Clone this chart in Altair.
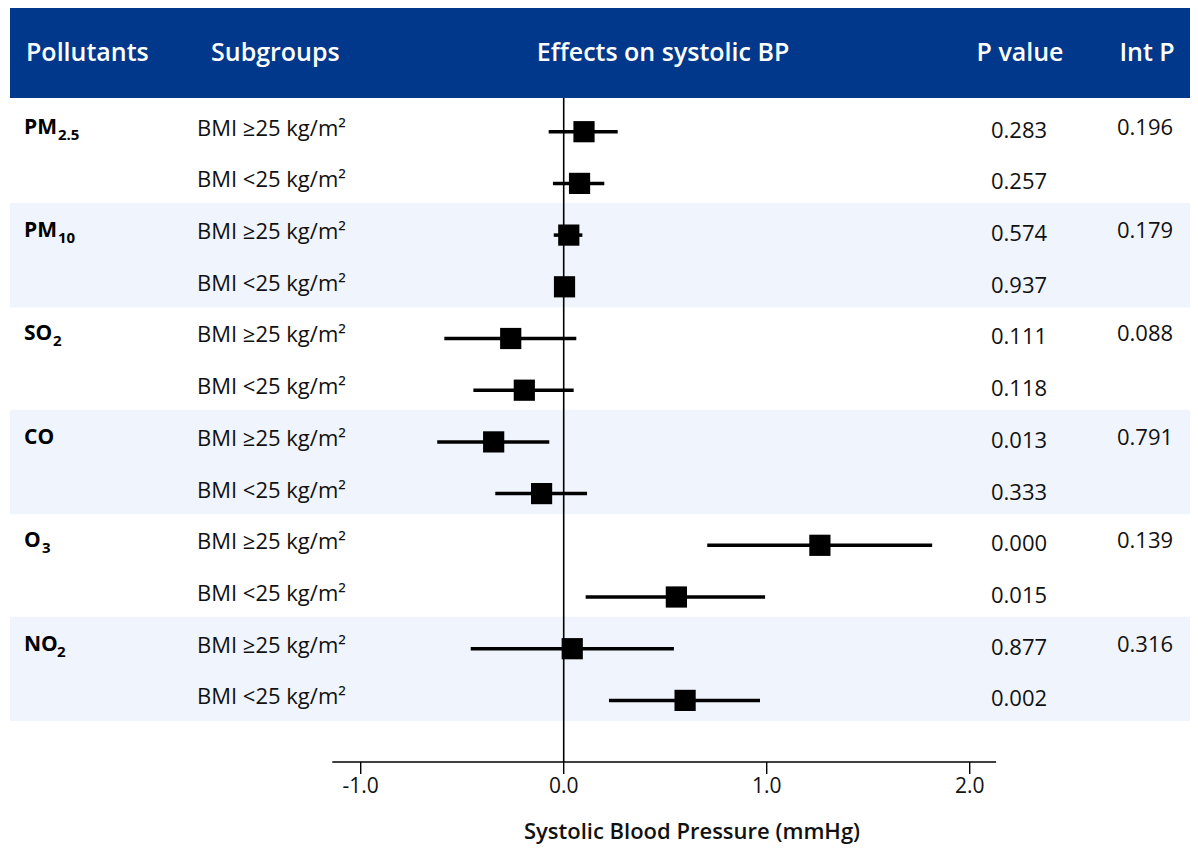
import altair as alt
import pandas as pd

# ---------------- data ----------------
pollutant_main = ["PM", "PM", "SO", "CO", "O", "NO"]
pollutant_sub = ["2.5", "10", "2", "", "3", "2"]
subgroups = ["BMI \u226525 kg/m\u00b2", "BMI <25 kg/m\u00b2"]
estimates = [0.100, 0.078, 0.025, 0.004, -0.261, -0.194, -0.345, -0.109, 1.262, 0.555, 0.042, 0.598]
lower = [-0.074, -0.053, -0.049, -0.030, -0.588, -0.445, -0.623, -0.337, 0.707, 0.108, -0.458, 0.223]
upper = [0.266, 0.200, 0.092, 0.040, 0.062, 0.049, -0.071, 0.115, 1.815, 0.992, 0.543, 0.967]
p_values = ["0.283", "0.257", "0.574", "0.937", "0.111", "0.118",
            "0.013", "0.333", "0.000", "0.015", "0.877", "0.002"]
int_p = ["0.196", "0.179", "0.088", "0.791", "0.139", "0.316"]
header_labels = ["Pollutants", "Subgroups", "Effects on systolic BP", "P value", "Int P"]
tick_values = [-1.0, 0.0, 1.0, 2.0]
tick_labels = ["-1.0", "0.0", "1.0", "2.0"]
axis_extent = [-1.14, 2.13]
x_title = "Systolic Blood Pressure (mmHg)"

# ---------------- tables ----------------
rows = pd.DataFrame({
    "row": list(range(12)),
    "sub": subgroups * 6,
    "est": estimates,
    "lo": lower,
    "hi": upper,
    "p": p_values,
})
groups = pd.DataFrame({
    "g": list(range(6)),
    "main": pollutant_main,
    "subs": pollutant_sub,
    "intp": int_p,
})
groups["row"] = groups["g"] * 2
groups["top"] = groups["row"] - 0.62
groups["bot"] = groups["row"] + 1.40
ticks = pd.DataFrame({"v": tick_values, "lab": tick_labels})
axis_df = pd.DataFrame({"a": [axis_extent[0]], "b": [axis_extent[1]]})
zero_df = pd.DataFrame({"v": [0.0]})
one = pd.DataFrame({"k": [0]})

# ---------------- styling / layout ----------------
FONT = "Open Sans"
BLUE = "#02388b"
BAND = "#f0f5fd"
W, H = 1180, 848
xscale = alt.Scale(domain=[-2.7276, 3.0852], nice=False, zero=False)
yscale = alt.Scale(domain=[-2.3926, 14.0097], nice=False, zero=False, reverse=True)
X = lambda f: alt.X(f, type="quantitative", scale=xscale, axis=None)
Y = lambda f: alt.Y(f, type="quantitative", scale=yscale, axis=None)

# (x, align) for each header label
header_pos = [(16, "left"), (201, "left"), (653, "center"), (1010, "center"), (1137, "center")]
sub_x = {0: 48, 1: 48, 2: 43, 4: 32, 5: 47}

layers = []

# alternating bands
layers.append(
    alt.Chart(groups[groups["g"] % 2 == 1]).mark_rect(color=BAND).encode(
        x=alt.value(0), x2=alt.value(W), y=Y("top"), y2="bot"
    )
)
# header bar
layers.append(
    alt.Chart(one).mark_rect(color=BLUE).encode(
        x=alt.value(0), x2=alt.value(W), y=alt.value(0), y2=alt.value(90)
    )
)
for lab, (hx, al) in zip(header_labels, header_pos):
    layers.append(
        alt.Chart(one).mark_text(
            text=lab, font=FONT, fontSize=25, fontWeight=600, color="white",
            align=al, baseline="middle"
        ).encode(x=alt.value(hx), y=alt.value(45))
    )

# zero line
layers.append(
    alt.Chart(zero_df).mark_rule(color="black", strokeWidth=1.6).encode(
        x=X("v"), y=alt.value(90), y2=alt.value(754)
    )
)
# CI lines
layers.append(
    alt.Chart(rows).mark_rule(color="black", strokeWidth=3.5).encode(
        x=X("lo"), x2="hi", y=Y("row")
    )
)
# squares
layers.append(
    alt.Chart(rows).mark_square(color="black", size=450, opacity=1, filled=True).encode(
        x=X("est"), y=Y("row")
    )
)
# subgroup labels
layers.append(
    alt.Chart(rows).mark_text(
        font=FONT, fontSize=22, align="left", baseline="middle", dy=-3, color="#111111"
    ).encode(x=alt.value(187), y=Y("row"), text="sub")
)
# p values
layers.append(
    alt.Chart(rows).mark_text(
        font=FONT, fontSize=22, align="center", baseline="middle", dy=-1, color="#111111"
    ).encode(x=alt.value(1009), y=Y("row"), text="p")
)
# pollutant labels
layers.append(
    alt.Chart(groups).mark_text(
        font=FONT, fontSize=21, fontWeight="bold", align="left", baseline="middle",
        dy=-4, color="black"
    ).encode(x=alt.value(14), y=Y("row"), text="main")
)
for g, sx in sub_x.items():
    layers.append(
        alt.Chart(groups[groups["g"] == g]).mark_text(
            font=FONT, fontSize=15, fontWeight="bold", align="left", baseline="middle",
            dy=3, color="black"
        ).encode(x=alt.value(sx), y=Y("row"), text="subs")
    )
# interaction p
layers.append(
    alt.Chart(groups).mark_text(
        font=FONT, fontSize=22, align="center", baseline="middle", dy=-4, color="#111111"
    ).encode(x=alt.value(1135), y=Y("row"), text="intp")
)

# axis
layers.append(
    alt.Chart(axis_df).mark_rule(color="black", strokeWidth=1.6).encode(
        x=X("a"), x2="b", y=alt.value(754)
    )
)
layers.append(
    alt.Chart(ticks).mark_rule(color="black", strokeWidth=1.4).encode(
        x=X("v"), y=alt.value(754), y2=alt.value(766)
    )
)
layers.append(
    alt.Chart(ticks).mark_text(
        font=FONT, fontSize=21, align="center", baseline="middle", color="#111111"
    ).encode(x=X("v"), y=alt.value(779), text="lab")
)
layers.append(
    alt.Chart(one).mark_text(
        text=x_title, font=FONT, fontSize=22, fontWeight=600, align="center",
        baseline="middle", color="#111111"
    ).encode(x=alt.value(682), y=alt.value(824))
)

chart = alt.layer(*layers).properties(
    width=W, height=H,
    autosize=alt.AutoSizeParams(type="none"),
    padding={"left": 2, "top": 0, "right": 0, "bottom": 0},
    background="white",
).configure_view(stroke=None)

chart.save("out.html", embed_options={"renderer": "svg", "actions": False})
